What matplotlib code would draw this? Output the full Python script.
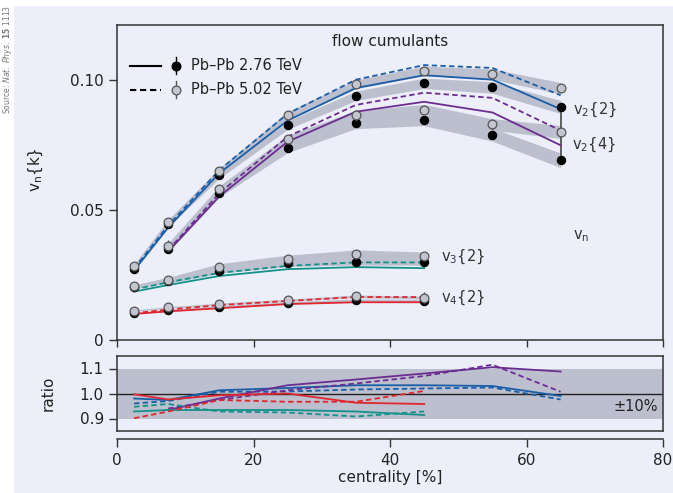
import numpy as np
import matplotlib
matplotlib.use("Agg")
import matplotlib.pyplot as plt
from matplotlib.patches import Rectangle

# ---------------- data ----------------
cent = [2.5, 7.5, 15, 25, 35, 45, 55, 65]
cent_v24 = [7.5, 15, 25, 35, 45, 55, 65]
cent_v34 = [2.5, 7.5, 15, 25, 35, 45]

# data points (2.76 TeV black, 5.02 TeV gray)
v22_276 = [0.0272, 0.0444, 0.0633, 0.0825, 0.0938, 0.0986, 0.0970, 0.0895]
v22_502 = [0.0285, 0.0454, 0.0648, 0.0863, 0.0982, 0.1034, 0.1021, 0.0967]
v24_276 = [0.0349, 0.0563, 0.0738, 0.0832, 0.0845, 0.0789, 0.0690]
v24_502 = [0.0362, 0.0579, 0.0771, 0.0863, 0.0885, 0.0828, 0.0799]
v32_276 = [0.0202, 0.0226, 0.0266, 0.0294, 0.0301, 0.0301]
v32_502 = [0.0207, 0.0230, 0.0279, 0.0310, 0.0330, 0.0322]
v42_276 = [0.0102, 0.0115, 0.0128, 0.0143, 0.0153, 0.0151]
v42_502 = [0.0113, 0.0125, 0.0138, 0.0153, 0.0168, 0.0163]

# statistical errors
e22_276 = [0.0003, 0.0003, 0.0003, 0.0003, 0.0004, 0.0005, 0.0007, 0.0009]
e22_502 = [0.0003, 0.0003, 0.0003, 0.0003, 0.0004, 0.0005, 0.0007, 0.0009]
e24_276 = [0.0010, 0.0006, 0.0008, 0.0012, 0.0010, 0.0012, 0.0012]
e24_502 = [0.0022, 0.0006, 0.0008, 0.0020, 0.0010, 0.0020, 0.0012]
e32_276 = [0.0003, 0.0003, 0.0004, 0.0005, 0.0006, 0.0008]
e32_502 = [0.0003, 0.0003, 0.0004, 0.0005, 0.0017, 0.0017]
e42_276 = [0.0003, 0.0003, 0.0004, 0.0005, 0.0006, 0.0008]
e42_502 = [0.0004, 0.0004, 0.0005, 0.0006, 0.0012, 0.0020]

# systematic bands (half widths)
s22_276 = [0.0006, 0.0009, 0.0012, 0.0016, 0.0018, 0.0020, 0.0022, 0.0025]
s22_502 = [0.0006, 0.0009, 0.0012, 0.0015, 0.0017, 0.0018, 0.0020, 0.0022]
s24_276 = [0.0010, 0.0014, 0.0018, 0.0020, 0.0022, 0.0025, 0.0028]
s24_502 = [0.0010, 0.0013, 0.0016, 0.0018, 0.0020, 0.0022, 0.0025]
s32_276 = [0.0005, 0.0008, 0.0010, 0.0012, 0.0013, 0.0014]
s32_502 = [0.0005, 0.0011, 0.0014, 0.0016, 0.0016, 0.0016]
s42_276 = [0.0003, 0.0003, 0.0004, 0.0004, 0.0005, 0.0005]
s42_502 = [0.0003, 0.0003, 0.0004, 0.0004, 0.0005, 0.0005]

# model curves (solid: 2.76 TeV, dashed: 5.02 TeV)
m22_276 = [0.0267, 0.0432, 0.0641, 0.0843, 0.0968, 0.1017, 0.1000, 0.0887]
m22_502 = [0.0274, 0.0440, 0.0653, 0.0869, 0.1000, 0.1056, 0.1045, 0.0940]
m24_276 = [0.0340, 0.0552, 0.0762, 0.0877, 0.0915, 0.0874, 0.0748]
m24_502 = [0.0345, 0.0564, 0.0781, 0.0903, 0.0950, 0.0930, 0.0805]
m32_276 = [0.0186, 0.0211, 0.0246, 0.0272, 0.0280, 0.0276]
m32_502 = [0.0194, 0.0222, 0.0258, 0.0285, 0.0298, 0.0298]
m42_276 = [0.0100, 0.0110, 0.0122, 0.0138, 0.0145, 0.0145]
m42_502 = [0.0103, 0.0117, 0.0134, 0.0150, 0.0165, 0.0165]

# ratio panel
r22_276 = [0.980, 0.974, 1.013, 1.022, 1.033, 1.033, 1.030, 0.990]
r22_502 = [0.960, 0.970, 1.007, 1.008, 1.016, 1.020, 1.024, 0.976]
r24_276 = [0.934, 0.980, 1.033, 1.056, 1.080, 1.105, 1.088]
r24_502 = [0.940, 0.974, 1.013, 1.040, 1.070, 1.115, 1.007]
r32_276 = [0.928, 0.934, 0.934, 0.934, 0.928, 0.914]
r32_502 = [0.947, 0.958, 0.928, 0.924, 0.908, 0.928]
r42_276 = [0.997, 0.976, 0.993, 1.000, 0.963, 0.958]
r42_502 = [0.901, 0.928, 0.974, 0.967, 0.967, 1.010]

# ---------------- style ----------------
BG = "#eceff9"
BAND = "#bcbfcd"
SPINE = "#333333"
C_BLUE = "#1a5ea8"
C_PURP = "#6b2d90"
C_TEAL = "#13918a"
C_RED = "#e0262e"
GRAYFILL = "#c3c6d1"
GRAYEDGE = "#555555"
DASH = (0, (3.0, 1.8))

plt.rcParams['font.family'] = ['DejaVu Sans']
plt.rcParams['font.size'] = 10.5

W, H = 673, 493
fig = plt.figure(figsize=(W / 100, H / 100), dpi=100)
fig.patch.set_facecolor("white")
fig.patches.append(Rectangle((14 / W, 0), 1 - 14 / W, 1 - 6 / H, transform=fig.transFigure,
                             facecolor=BG, edgecolor="none", zorder=-10))

x0, x1 = 117 / W, 663 / W
ax1 = fig.add_axes([x0, 1 - 340 / H, x1 - x0, (340 - 25) / H])
ax2 = fig.add_axes([x0, 1 - 431 / H, x1 - x0, (431 - 356) / H])
for ax in (ax1, ax2):
    ax.set_facecolor(BG)
    for s in ax.spines.values():
        s.set_color(SPINE)
        s.set_linewidth(1.1)
    ax.tick_params(direction="out", length=6, width=1.0, color=SPINE, labelsize=11,
                   labelcolor="#222222")
    ax.set_xlim(0, 80)

# ---------------- top panel ----------------
ax1.set_ylim(0, 0.121)
ax1.set_yticks([0, 0.05, 0.10])
ax1.set_yticklabels(["0", "0.05", "0.10"])
ax1.set_xticks([0, 20, 40, 60, 80])
ax1.tick_params(axis="x", labelbottom=False, length=5)

def band(ax, x, y, s):
    y = np.asarray(y); s = np.asarray(s)
    ax.fill_between(x, y - s, y + s, color=BAND, lw=0, zorder=1)

for x, y, s in [(cent, v22_276, s22_276), (cent, v22_502, s22_502),
                (cent_v24, v24_276, s24_276), (cent_v24, v24_502, s24_502),
                (cent_v34, v32_276, s32_276), (cent_v34, v32_502, s32_502),
                (cent_v34, v42_276, s42_276), (cent_v34, v42_502, s42_502)]:
    band(ax1, x, y, s)

for x, ms, md, c in [(cent, m22_276, m22_502, C_BLUE), (cent_v24, m24_276, m24_502, C_PURP),
                     (cent_v34, m32_276, m32_502, C_TEAL), (cent_v34, m42_276, m42_502, C_RED)]:
    ax1.plot(x, ms, color=c, lw=1.3, zorder=3)
    ax1.plot(x, md, color=c, lw=1.3, ls=DASH, zorder=3)

# vertical connector between v2{2} and v2{4}
ax1.plot([cent[-1], cent_v24[-1]], [v22_276[-1], v24_276[-1]], color="#555555", lw=1.3, zorder=2)

for x, y, e in [(cent, v22_276, e22_276), (cent_v24, v24_276, e24_276),
                (cent_v34, v32_276, e32_276), (cent_v34, v42_276, e42_276)]:
    ax1.errorbar(x, y, yerr=e, fmt="o", ms=6, mfc="black", mec="black", mew=0.8,
                 ecolor="black", elinewidth=1.0, capsize=0, zorder=5)
for x, y, e in [(cent, v22_502, e22_502), (cent_v24, v24_502, e24_502),
                (cent_v34, v32_502, e32_502), (cent_v34, v42_502, e42_502)]:
    ax1.errorbar(x, y, yerr=e, fmt="o", ms=6.3, mfc=GRAYFILL, mec=GRAYEDGE, mew=0.9,
                 ecolor=GRAYEDGE, elinewidth=1.0, capsize=0, zorder=6)

# labels
tc = "#333333"
ax1.text(40, 0.1145, "flow cumulants", ha="center", va="center", fontsize=11, color="#222222")
ax1.text(66.8, 0.0885, "v$_2${2}", ha="left", va="center", fontsize=10.5, color=tc)
ax1.text(66.6, 0.0750, "v$_2${4}", ha="left", va="center", fontsize=10.5, color=tc)
ax1.text(66.8, 0.0398, "v$_\\mathrm{n}$", ha="left", va="center", fontsize=10.5, color=tc)
ax1.text(47.5, 0.0318, "v$_3${2}", ha="left", va="center", fontsize=10.5, color=tc)
ax1.text(47.5, 0.0163, "v$_4${2}", ha="left", va="center", fontsize=10.5, color=tc)

ax1.set_ylabel("v$_\\mathrm{n}${k}", fontsize=11, color="#222222", labelpad=4)
ax1.yaxis.set_label_coords(-0.132, 0.54)

# legend (manual)
T = ax1.transAxes
for yy, ls, mfc, mec in [(0.870, "-", "black", "black"), (0.794, DASH, GRAYFILL, GRAYEDGE)]:
    ax1.plot([0.024, 0.080], [yy, yy], transform=T, color="black", lw=1.5, ls=ls, clip_on=False)
    ax1.plot([0.1075, 0.1075], [yy - 0.027, yy + 0.027], transform=T, color=mec, lw=1.0)
    ax1.plot([0.1075], [yy], transform=T, marker="o", ms=6.3, mfc=mfc, mec=mec, mew=0.9)
ax1.text(0.136, 0.870, "Pb\u2013Pb 2.76 TeV", transform=T, va="center", ha="left", fontsize=10.5, color="#222222")
ax1.text(0.136, 0.794, "Pb\u2013Pb 5.02 TeV", transform=T, va="center", ha="left", fontsize=10.5, color="#222222")

# ---------------- ratio panel ----------------
ax2.set_ylim(0.85, 1.15)
ax2.set_yticks([0.9, 1.0, 1.1])
ax2.set_yticklabels(["0.9", "1.0", "1.1"])
ax2.set_xticks([0, 20, 40, 60, 80])
ax2.axhspan(0.9, 1.1, color=BAND, lw=0, zorder=0)
ax2.axhline(1.0, color="#222222", lw=1.0, zorder=1)
ax2.spines["bottom"].set_position(("outward", 6))
ax2.plot([0, 1], [0, 0], transform=ax2.transAxes, color=SPINE, lw=1.1, clip_on=False, zorder=10)

for x, rs, rd, c in [(cent, r22_276, r22_502, C_BLUE), (cent_v24, r24_276, r24_502, C_PURP),
                     (cent_v34, r32_276, r32_502, C_TEAL), (cent_v34, r42_276, r42_502, C_RED)]:
    ax2.plot(x, rs, color=c, lw=1.3, zorder=3)
    ax2.plot(x, rd, color=c, lw=1.3, ls=DASH, zorder=3)

ax2.text(72.8, 0.948, "\u00b110%", ha="left", va="center", fontsize=10.5, color="#222222")
ax2.set_ylabel("ratio", fontsize=11, color="#222222")
ax2.yaxis.set_label_coords(-0.113, 0.5)
ax2.set_xlabel("centrality [%]", fontsize=11, color="#222222", labelpad=2)

# source note
fig.text(8 / W, 1 - 5 / H, r"Source: $\mathit{Nat.\ Phys.}$ $\mathbf{15}$ 1113", rotation=90,
         ha="center", va="top", fontsize=5.5, color="#777777")

fig.savefig("out.png", dpi=100, facecolor=fig.get_facecolor())
